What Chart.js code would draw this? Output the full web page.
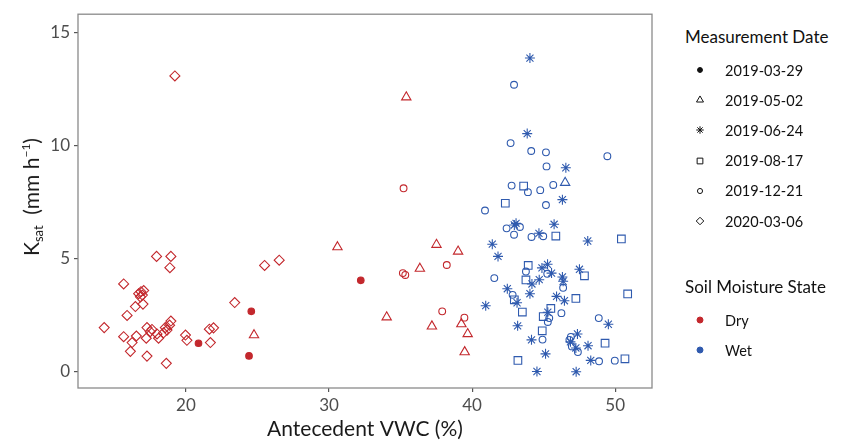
<!DOCTYPE html>
<html>
<head>
<meta charset="utf-8">
<script src="https://cdn.jsdelivr.net/npm/chart.js@4.4.1/dist/chart.umd.min.js"></script>
<style>
  html, body { margin: 0; padding: 0; background: #fff; }
  body { width: 841px; height: 446px; position: relative; overflow: hidden; font-family: Lato, "Open Sans", sans-serif; }
  #chart-box { position: absolute; left: 0; top: 0; width: 660px; height: 446px; }
  #y-title {
    position: absolute; left: 32px; top: 197px;
    transform: translate(-50%, -50%) rotate(-90deg);
    white-space: nowrap; font-size: 21px; color: #1a1a1a;
  }
  #y-title sub { font-size: 13px; vertical-align: -4px; }
  #y-title sup { font-size: 12px; vertical-align: 9px; }
  .legend { position: absolute; left: 685px; color: #111; }
  .legend h4 { margin: 0 0 7px 0; font-weight: normal; font-size: 17px; line-height: 22px; }
  .legend .row { height: 30.2px; display: flex; align-items: center; font-size: 14.5px; }
  .legend canvas { margin-left: 8px; margin-right: 18px; }
</style>
</head>
<body>
<div id="chart-box"><canvas id="chart"></canvas></div>
<div id="y-title">K<sub>sat</sub>&nbsp;&nbsp;(mm h<sup>−1</sup>)</div>
<div class="legend" id="legend-date" style="top:26px"><h4>Measurement Date</h4></div>
<div class="legend" id="legend-state" style="top:276px"><h4>Soil Moisture State</h4></div>

<script>
const DRY = "#c3282d";
const WET = "#2f5aae";

const xTickValues = [20, 30, 40, 50];
const yTickValues = [0, 5, 10, 15];

const dateLabels = ["2019-03-29", "2019-05-02", "2019-06-24", "2019-08-17", "2019-12-21", "2020-03-06"];
const stateLabels = ["Dry", "Wet"];

// Dry points
const dry0329X = [20.88, 24.41, 24.57, 32.22];
const dry0329Y = [1.25, 0.69, 2.66, 4.03];

const dry0502X = [24.76, 30.59, 34.03, 35.40, 36.35, 37.19, 37.51, 39.02, 39.25, 39.48, 39.69];
const dry0502Y = [1.61, 5.50, 2.40, 12.13, 4.55, 2.00, 5.61, 5.31, 2.10, 0.86, 1.66];

const dry1221X = [35.16, 35.33, 35.21, 37.91, 38.23, 39.46];
const dry1221Y = [4.35, 4.27, 8.10, 2.66, 4.71, 2.38];

const dry0306X = [19.23, 17.95, 18.95, 18.88, 15.65, 16.70, 16.86, 17.05, 16.82, 16.96, 16.47, 17.00, 15.89,
  23.41, 25.50, 26.52, 14.29, 15.65, 16.24, 16.12, 16.54, 17.23, 17.28, 17.63, 17.51, 17.98, 18.09, 18.56,
  18.86, 18.95, 18.68, 18.44, 17.28, 18.63, 19.97, 20.07, 21.64, 21.93, 21.71];
const dry0306Y = [13.07, 5.09, 5.09, 4.59, 3.87, 3.44, 3.53, 3.58, 3.30, 3.38, 2.87, 2.98, 2.48,
  3.05, 4.69, 4.92, 1.94, 1.54, 1.28, 0.89, 1.57, 1.47, 1.94, 1.86, 1.76, 1.66, 1.47, 1.94,
  2.05, 2.23, 1.83, 1.71, 0.68, 0.36, 1.61, 1.38, 1.87, 1.93, 1.28];

// Wet points
const wet0502X = [46.50];
const wet0502Y = [8.35];

const wet0624X = [44.04, 43.85, 46.55, 46.31, 43.07, 42.95, 45.73, 44.67, 48.08, 41.41, 41.81, 44.88, 45.27,
  45.55, 47.50, 44.69, 44.18, 46.31, 46.36, 42.46, 44.04, 45.90, 43.14, 46.45, 40.95, 45.29, 49.52, 43.18,
  44.15, 47.36, 46.87, 47.25, 48.10, 45.13, 48.29, 44.53, 47.27];
const wet0624Y = [13.86, 10.52, 9.01, 7.60, 6.55, 6.48, 6.51, 6.11, 5.77, 5.63, 5.09, 4.58, 4.74,
  4.35, 4.52, 4.06, 3.87, 4.18, 3.99, 3.66, 3.44, 3.32, 3.04, 3.13, 2.91, 2.62, 2.09, 2.02,
  1.40, 1.66, 1.31, 1.04, 1.14, 0.78, 0.49, 0.00, -0.01];

const wet0817X = [43.60, 42.32, 45.85, 50.43, 43.92, 47.85, 43.76, 50.87, 42.95, 47.25, 45.50, 43.51, 44.97,
  44.90, 49.29, 43.20, 50.68];
const wet0817Y = [8.20, 7.44, 5.99, 5.86, 4.69, 4.23, 4.05, 3.43, 3.17, 3.23, 2.79, 2.63, 2.43,
  1.80, 1.25, 0.49, 0.56];

const wet1221X = [42.93, 42.69, 44.13, 45.16, 49.45, 45.20, 42.76, 43.90, 44.76, 45.67, 45.16, 40.90, 42.41,
  43.34, 42.93, 44.15, 44.97, 43.76, 45.25, 41.55, 46.36, 42.83, 45.39, 46.24, 45.29, 48.85, 44.92, 46.90,
  46.80, 46.97, 47.39, 48.87, 49.97];
const wet1221Y = [12.68, 10.10, 9.75, 9.69, 9.52, 9.07, 8.22, 7.93, 8.02, 8.25, 7.36, 7.12, 6.33,
  6.39, 6.05, 5.95, 5.98, 4.42, 4.32, 4.13, 3.70, 3.39, 2.36, 2.58, 2.19, 2.36, 1.41, 1.53,
  1.40, 1.11, 0.86, 0.45, 0.48];

/* ---------- marker styles ---------- */

const SHAPES = {
  "2019-03-29": { pointStyle: "circle", radius: 3.3, filled: true },
  "2019-05-02": { pointStyle: "triangle", radius: 5.4, filled: false },
  "2019-06-24": { pointStyle: "star", radius: 5, filled: false },
  "2019-08-17": { pointStyle: "rect", radius: 5.4, filled: false },
  "2019-12-21": { pointStyle: "circle", radius: 3.4, filled: false },
  "2020-03-06": { pointStyle: "rectRot", radius: 5, filled: false },
};

function makeSeries(date, color, xs, ys) {
  const s = SHAPES[date];
  return {
    label: date,
    data: xs.map((x, i) => ({ x, y: ys[i] })),
    pointStyle: s.pointStyle,
    pointRadius: s.radius,
    pointBorderWidth: 1.1,
    borderColor: color,
    pointBorderColor: color,
    pointBackgroundColor: s.filled ? color : "rgba(0,0,0,0)",
    showLine: false,
  };
}

const datasets = [
  makeSeries("2020-03-06", DRY, dry0306X, dry0306Y),
  makeSeries("2019-12-21", DRY, dry1221X, dry1221Y),
  makeSeries("2019-05-02", DRY, dry0502X, dry0502Y),
  makeSeries("2019-03-29", DRY, dry0329X, dry0329Y),
  makeSeries("2019-12-21", WET, wet1221X, wet1221Y),
  makeSeries("2019-08-17", WET, wet0817X, wet0817Y),
  makeSeries("2019-06-24", WET, wet0624X, wet0624Y),
  makeSeries("2019-05-02", WET, wet0502X, wet0502Y),
];

/* ---------- panel border ---------- */

const panelBorder = {
  id: "panelBorder",
  afterDraw(chart) {
    const { ctx, chartArea: a } = chart;
    ctx.save();
    ctx.strokeStyle = "#8a8a8a";
    ctx.lineWidth = 1.3;
    ctx.strokeRect(a.left, a.top, a.right - a.left, a.bottom - a.top);
    ctx.restore();
  },
};

const tickFont = { family: "Lato, 'Open Sans', sans-serif", size: 17 };

new Chart(document.getElementById("chart"), {
  type: "scatter",
  data: { datasets },
  plugins: [panelBorder],
  options: {
    responsive: true,
    maintainAspectRatio: false,
    animation: false,
    layout: { padding: { top: 6, right: 8, left: 0, bottom: 0 } },
    plugins: { legend: { display: false }, tooltip: { enabled: false } },
    scales: {
      x: {
        type: "linear",
        min: 12.46,
        max: 52.57,
        afterBuildTicks: (scale) => { scale.ticks = xTickValues.map((v) => ({ value: v })); },
        afterFit: (scale) => { scale.height = 58; },
        grid: { drawOnChartArea: false, drawTicks: true, tickLength: 4, color: "#555", lineWidth: 1.2 },
        border: { display: false },
        ticks: { color: "#4d4d4d", font: tickFont, padding: 3, maxRotation: 0 },
        title: {
          display: true,
          text: "Antecedent VWC (%)",
          color: "#1a1a1a",
          font: { family: "Lato, 'Open Sans', sans-serif", size: 21 },
          padding: { top: 0, bottom: 4 },
        },
      },
      y: {
        type: "linear",
        min: -0.73,
        max: 15.8,
        afterBuildTicks: (scale) => { scale.ticks = yTickValues.map((v) => ({ value: v })); },
        afterFit: (scale) => { scale.width = 78; },
        grid: { drawOnChartArea: false, drawTicks: true, tickLength: 4, color: "#555", lineWidth: 1.2 },
        border: { display: false },
        ticks: { color: "#4d4d4d", font: tickFont, padding: 4 },
      },
    },
  },
});

/* ---------- legends ---------- */

function legendIcon(style, color) {
  const c = document.createElement("canvas");
  c.width = 14;
  c.height = 14;
  const ctx = c.getContext("2d");
  ctx.strokeStyle = color;
  ctx.fillStyle = style.filled ? color : "rgba(0,0,0,0)";
  ctx.lineWidth = 1;
  Chart.helpers.drawPoint(ctx, { pointStyle: style.pointStyle, radius: style.radius, borderWidth: 1, rotation: 0 }, 7, 7);
  return c;
}

function legendRow(parent, icon, text) {
  const row = document.createElement("div");
  row.className = "row";
  row.appendChild(icon);
  const span = document.createElement("span");
  span.textContent = text;
  row.appendChild(span);
  parent.appendChild(row);
}

const dateBox = document.getElementById("legend-date");
dateLabels.forEach((d) => {
  const s = SHAPES[d];
  const small = { ...s, radius: s.radius * 0.75 };
  legendRow(dateBox, legendIcon(small, "#111"), d);
});

const stateBox = document.getElementById("legend-state");
stateLabels.forEach((st) => {
  const icon = legendIcon({ pointStyle: "circle", radius: 3, filled: true }, st === "Dry" ? DRY : WET);
  legendRow(stateBox, icon, st);
});
</script>
</body>
</html>
